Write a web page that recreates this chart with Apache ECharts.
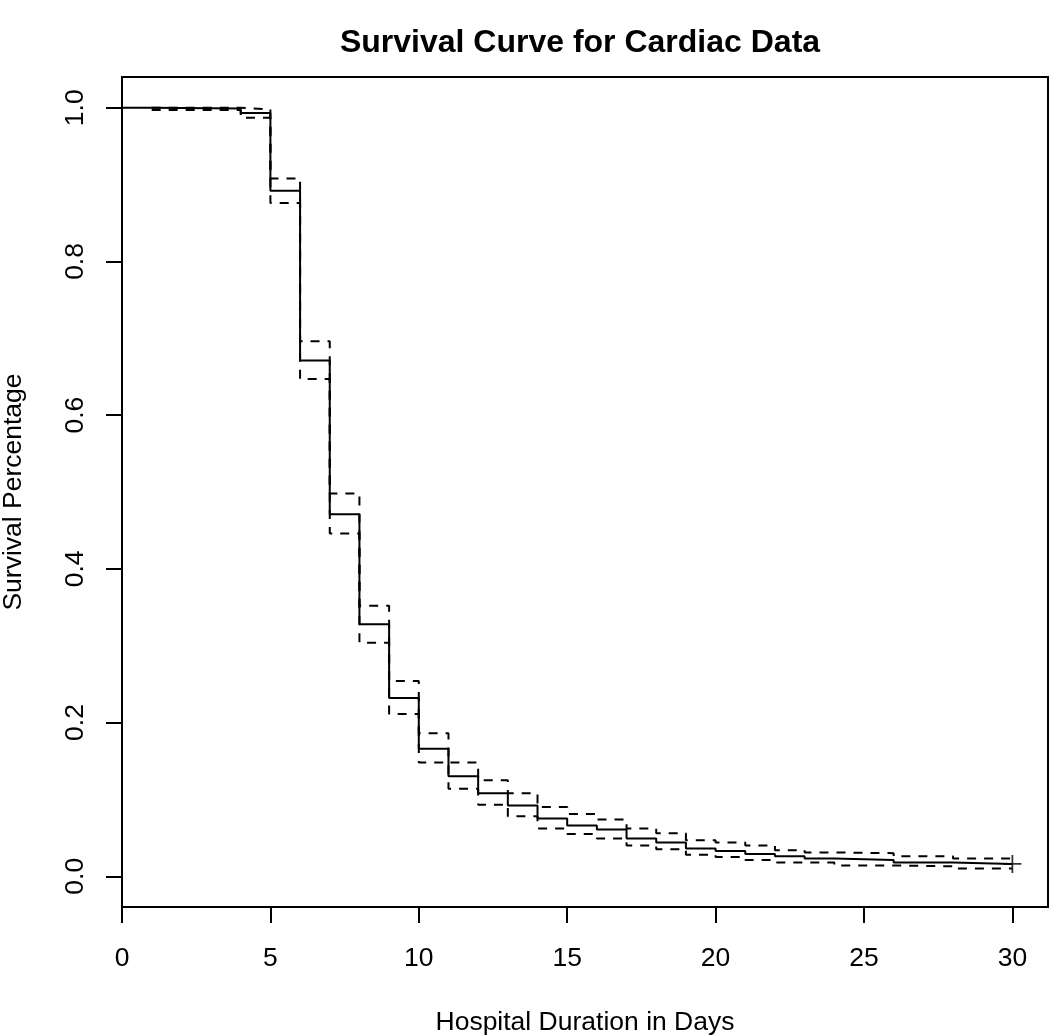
<!DOCTYPE html>
<html>
<head>
<meta charset="utf-8">
<script src="https://cdn.jsdelivr.net/npm/echarts@6/dist/echarts.min.js"></script>
<style>
html,body{margin:0;padding:0;background:#fff;}
#chart{width:1050px;height:1036px;}
</style>
</head>
<body>
<div id="chart"></div>
<script>
// Kaplan-Meier estimate
const survTimes  = [0, 1, 4, 5, 6, 7, 8, 9, 10, 11, 12, 13, 14, 15, 16, 17, 18, 19, 20, 21, 22, 23, 24, 26, 28, 30];
const survValues = [1.0, 0.999, 0.993, 0.892, 0.671, 0.471, 0.328, 0.232, 0.166, 0.130, 0.108, 0.092, 0.075, 0.066, 0.061, 0.049, 0.044, 0.036, 0.033, 0.029, 0.026, 0.023, 0.021, 0.018, 0.016, 0.016];
// Confidence band
const ciTimes  = [1, 4, 5, 6, 7, 8, 9, 10, 11, 12, 13, 14, 15, 16, 17, 18, 19, 20, 21, 22, 23, 24, 26, 28, 30];
const ciUpper  = [1.0, 0.998, 0.908, 0.696, 0.498, 0.352, 0.254, 0.186, 0.148, 0.125, 0.108, 0.090, 0.081, 0.074, 0.062, 0.056, 0.047, 0.044, 0.040, 0.034, 0.031, 0.030, 0.026, 0.023, 0.023];
const ciLower  = [0.997, 0.987, 0.876, 0.647, 0.446, 0.304, 0.211, 0.148, 0.114, 0.093, 0.078, 0.062, 0.055, 0.049, 0.040, 0.035, 0.028, 0.025, 0.021, 0.018, 0.018, 0.014, 0.013, 0.010, 0.010];
// Censored observation
const censorTimes  = [30];
const censorValues = [0.016];
// Tick labels
const xTicks = [0, 5, 10, 15, 20, 25, 30];
const yTicks = [0, 0.2, 0.4, 0.6, 0.8, 1.0];

const zip = (a, b) => a.map((v, i) => [v, b[i]]);
const FONT = 'Liberation Sans, Arial, Helvetica, sans-serif';

const chart = echarts.init(document.getElementById('chart'), null, {renderer: 'canvas'});
chart.setOption({
  animation: false,
  backgroundColor: '#fff',
  title: {
    text: 'Survival Curve for Cardiac Data',
    left: 575, top: 22, textAlign: 'center',
    textStyle: {fontFamily: FONT, fontWeight: 'bold', fontSize: 32, color: '#000'}
  },
  grid: {
    left: 122, right: 2, top: 77, bottom: 129,
    outerBoundsMode: 'none', containLabel: false,
    show: true, borderColor: '#000', borderWidth: 2, backgroundColor: 'transparent'
  },
  xAxis: {
    type: 'value', min: 0, max: 31.2,
    name: 'Hospital Duration in Days', nameLocation: 'middle', nameGap: 102,
    nameTextStyle: {fontFamily: FONT, fontSize: 26.5, color: '#000'},
    axisLine: {show: true, onZero: false, lineStyle: {color: '#000', width: 2}},
    axisTick: {show: true, customValues: xTicks, length: 16, lineStyle: {color: '#000', width: 2}},
    axisLabel: {customValues: xTicks, margin: 38, fontFamily: FONT, fontSize: 26.5, color: '#000'},
    splitLine: {show: false}
  },
  yAxis: {
    type: 'value', min: -0.04, max: 1.04,
    name: 'Survival Percentage', nameLocation: 'middle', nameGap: 95,
    nameTextStyle: {fontFamily: FONT, fontSize: 26.5, color: '#000'},
    axisLine: {show: true, onZero: false, lineStyle: {color: '#000', width: 2}},
    axisTick: {show: true, customValues: yTicks, length: 16, lineStyle: {color: '#000', width: 2}},
    axisLabel: {customValues: yTicks, rotate: 90, margin: 33, fontFamily: FONT, fontSize: 26.5, color: '#000',
      formatter: v => v.toFixed(1)},
    splitLine: {show: false}
  },
  series: [
    {
      type: 'line', step: 'end', data: zip(ciTimes, ciUpper), symbol: 'none',
      lineStyle: {color: '#000', width: 2, type: [9, 8]}, z: 2
    },
    {
      type: 'line', step: 'end', data: zip(ciTimes, ciLower), symbol: 'none',
      lineStyle: {color: '#000', width: 2, type: [9, 8]}, z: 2
    },
    {
      type: 'line', step: 'end', data: zip(survTimes, survValues), symbol: 'none',
      lineStyle: {color: '#000', width: 2}, z: 3
    },
    {
      type: 'scatter', data: zip(censorTimes, censorValues),
      symbol: 'path://M9,0h2v9h9v2h-9v9h-2v-9h-9v-2h9z', symbolSize: 18,
      itemStyle: {color: '#000'}, z: 4
    }
  ]
});
</script>
</body>
</html>
